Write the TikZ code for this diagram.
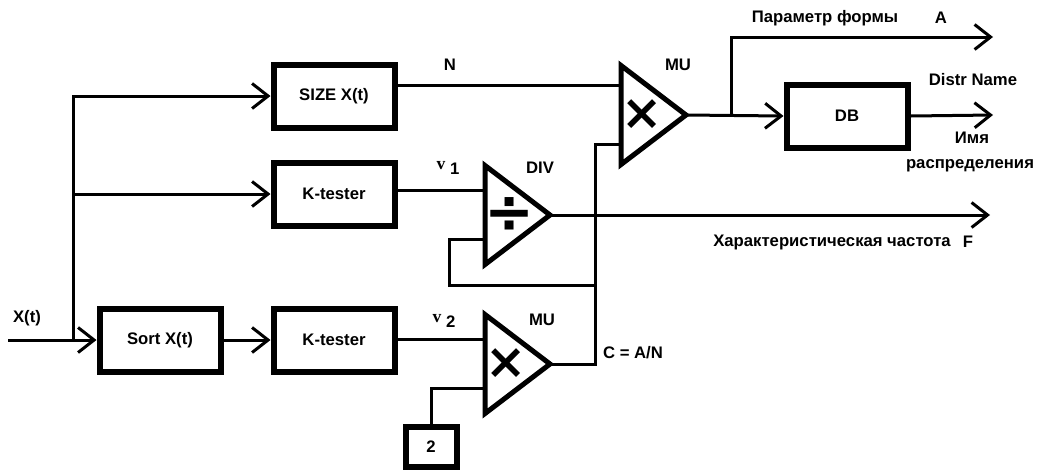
\documentclass[tikz,border=0pt]{standalone}
\usepackage{fontspec}
\setmainfont{Liberation Sans}
\newfontfamily\vfont{Liberation Serif}
\newfontfamily\opfont{DejaVu Sans}
\usetikzlibrary{positioning, arrows.meta, calc, shapes.geometric}

\begin{document}
\begin{tikzpicture}[
  x=0.2mm, y=-0.2mm,
  font=\fontsize{9.5}{11}\selectfont\bfseries,
  >={Straight Barb[length=3.2mm, width=5mm]},
  box/.style={draw, line width=1.2mm, minimum width=24.2mm, minimum height=12.6mm,
              inner sep=1pt, align=center},
  amp/.style={draw, isosceles triangle, isosceles triangle stretches, shape border rotate=0,
              line width=1mm, minimum width=19.8mm, minimum height=13mm, inner sep=0pt,
              outer sep=0pt},
  sym/.style={font=\opfont\bfseries\fontsize{28}{28}\selectfont, inner sep=0pt},
  wire/.style={line width=0.6mm},
  flow/.style={wire, ->},
  lbl/.style={inner sep=0pt},
]
\useasboundingbox (0,0) rectangle (1038,475);
% blocks
\node[box] (sizex) at (334,96)  {SIZE X(t)};
\node[box] (kt1)   at (334,194) {K-tester};
\node[box] (sortx) at (160,340) {Sort X(t)};
\node[box, right=9.4mm of sortx] (kt2) {K-tester};
\node[box] (db)    at (847,116) {DB};
\node[box, minimum width=10.2mm, minimum height=8mm] (two) at (431,447) {2};
% operators
\node[amp, anchor=lower side] (div) at (485,215) {};
\node[amp, anchor=lower side] (mu2) at (485,364) {};
\node[amp, anchor=lower side] (mu1) at (621,115) {};
\node[sym, font=\opfont\bfseries\fontsize{34}{34}\selectfont] (divop)
  at ($(div.lower side)!0.38!(div.apex)$) {÷};
\node[sym] (mu2op) at ($(mu2.lower side)!0.33!(mu2.apex)$) {×};
\node[sym] (mu1op) at ($(mu1.lower side)!0.33!(mu1.apex)$) {×};
% inputs of the operators
\coordinate (divin1) at ($(div.left corner)!0.25!(div.right corner)$);
\coordinate (divin2) at ($(div.left corner)!0.75!(div.right corner)$);
\coordinate (mu2in1) at ($(mu2.left corner)!0.25!(mu2.right corner)$);
\coordinate (mu2in2) at ($(mu2.left corner)!0.75!(mu2.right corner)$);
\coordinate (mu1in1) at ($(mu1.left corner)!0.2!(mu1.right corner)$);
\coordinate (mu1in2) at ($(mu1.left corner)!0.8!(mu1.right corner)$);
% free ends and corners
\coordinate (xin)  at (8,340);
\coordinate (bus)  at (73,340);
\coordinate (cn)   at (595,364);
\coordinate (fb)   at (595,285);
\coordinate (fbl)  at (449,285);
\coordinate (abr)  at (731,115);
\coordinate (aout) at (993,37);
\coordinate (nout) at (993,115);
\coordinate (fout) at (990,215);
% flows
\draw[wire] (xin) -- (bus);
\draw[flow] (bus) -- (sortx.west);
\draw[flow] (bus) |- (sizex.west);
\draw[flow] (bus |- kt1.west) -- (kt1.west);
\draw[flow] (sortx) -- (kt2);
\draw[wire] (sizex.east |- mu1in1) -- (mu1in1);
\draw[wire] (kt1.east |- divin1) -- (divin1);
\draw[wire] (kt2.east |- mu2in1) -- (mu2in1);
\draw[wire] (two.north) |- (mu2in2);
\draw[wire] (mu2.apex) -- (cn) |- (mu1in2);
\draw[wire] (fb) -- (fbl) |- (divin2);
\draw[flow] (div.apex) -- (fout);
\draw[flow] (mu1.apex) -- (db.west);
\draw[flow] (abr) |- (aout);
\draw[flow] (db.east) -- (nout);
% labels
\node[lbl] (xlab)  at (27,318)  {X(t)};
\node[lbl] (nlab)  at (450,65)  {N};
\node[lbl] (v1lab) at (448,168) {\raisebox{0.6ex}{\vfont\bfseries\fontsize{10}{11}\selectfont v}~1};
\node[lbl] (v2lab) at (444,321) {\raisebox{0.6ex}{\vfont\bfseries\fontsize{10}{11}\selectfont v}~2};
\node[lbl] (divlab) at (540,168) {DIV};
\node[lbl] (mu1lab) at (678,65) {MU};
\node[lbl] (mu2lab) at (542,320) {MU};
\node[lbl] (clab)  at (633,353) {C = A/N};
\node[lbl] (plab)  at (825,18)  {Параметр формы};
\node[lbl] (alab)  at (941,18)  {A};
\node[lbl] (dnlab) at (973,80)  {Distr Name};
\node[lbl] (imlab) at (972,138) {Имя};
\node[lbl] (rlab)  at (970,166) {распределения};
\node[lbl] (flab)  at (832,242) {Характеристическая частота};
\node[lbl] (fflab) at (968,242) {F};
\end{tikzpicture}
\end{document}
